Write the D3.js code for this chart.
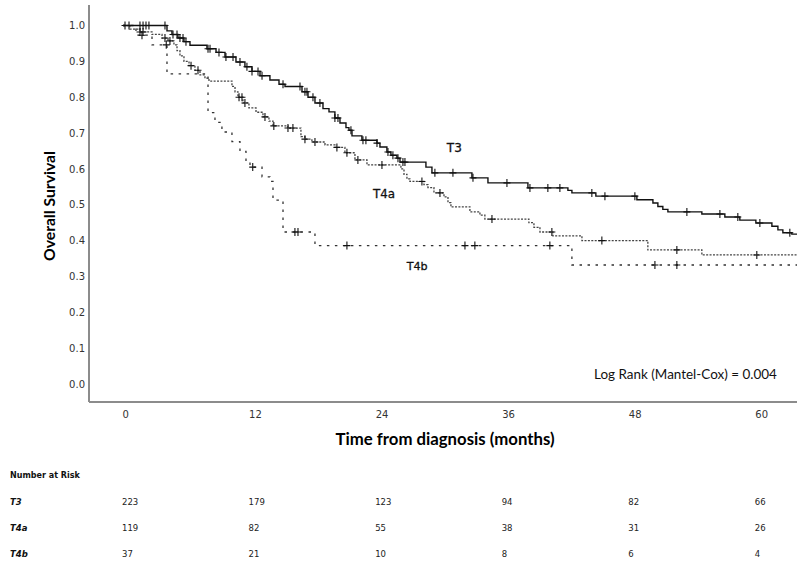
<!DOCTYPE html>
<html><head><meta charset="utf-8">
<script src="https://cdn.jsdelivr.net/npm/d3@7"></script>
<style>body{margin:0;background:#fff} svg{display:block}</style>
</head><body>
<svg id="c" width="800" height="561"></svg>
<script>
// ---- data (months, survival) ----
const groups = ["T3", "T4a", "T4b"];
const t3Times = [0,4.17,4.64,5.21,5.78,6.35,7.96,8.82,9.67,10.71,11.56,12.23,12.99,13.93,14.79,15.36,16.97,17.54,18.2,18.96,19.53,20.09,20.57,21.14,21.42,21.71,22.65,24.08,24.36,25.02,25.4,25.97,26.26,28.72,29.29,33.08,34.6,38.39,42.18,42.56,44.83,48.72,50.24,50.71,51.18,51.66,54.88,57.06,58.48,60.0,61.52,62.09,62.56,63.41];
const t3Surv = [1.0,0.985,0.975,0.965,0.955,0.945,0.935,0.925,0.912,0.898,0.885,0.872,0.86,0.848,0.836,0.83,0.815,0.80,0.784,0.768,0.759,0.742,0.728,0.715,0.708,0.692,0.68,0.672,0.661,0.647,0.638,0.63,0.619,0.605,0.589,0.575,0.561,0.547,0.54,0.533,0.524,0.514,0.505,0.495,0.487,0.48,0.474,0.466,0.457,0.449,0.44,0.43,0.422,0.418];
const t3Censored = [0.19,0.57,1.61,1.9,2.18,2.46,3.98,4.74,5.12,5.4,5.69,5.97,8.06,8.25,9.1,9.76,10.43,11.09,11.75,12.23,12.8,13.18,15.17,16.78,17.25,17.44,18.01,18.67,20.09,20.38,21.61,22.75,23.03,24.08,25.12,25.59,26.07,26.54,26.73,29.57,31.28,33.18,36.4,38.58,40.28,41.42,44.45,45.69,48.53,53.46,56.59,58.29,60.38,63.22];

const t4aTimes = [0,0.66,1.61,2.75,3.7,4.27,4.83,5.12,5.4,5.78,6.26,6.82,7.3,7.77,8.15,10.33,10.62,10.9,11.37,11.94,12.61,13.27,13.84,14.22,15.64,16.87,17.25,17.91,19.15,20.09,21.04,21.99,23.13,26.35,26.64,26.92,27.2,28.53,28.91,29.48,30.43,30.81,31.09,32.89,33.84,34.31,38.48,38.96,39.53,40.76,43.51,49.76,54.88];
const t4aSurv = [1.0,0.99,0.982,0.975,0.965,0.957,0.946,0.93,0.915,0.9,0.888,0.875,0.862,0.853,0.845,0.83,0.815,0.8,0.784,0.77,0.758,0.745,0.733,0.72,0.714,0.69,0.683,0.675,0.667,0.66,0.645,0.625,0.611,0.6,0.585,0.572,0.565,0.556,0.548,0.533,0.522,0.506,0.494,0.48,0.471,0.46,0.45,0.437,0.424,0.413,0.4,0.374,0.36];
const t4aCensored = [1.61,1.9,3.98,4.45,6.45,7.11,11.0,11.28,11.56,13.46,14.3,15.64,16.11,17.25,18.2,20.28,21.23,22.27,24.55,28.34,30.05,34.98,40.66,45.4,52.51,60.09];

const t4bTimes = [0,1.23,2.75,4.17,8.06,8.72,9.38,10.33,11.09,11.66,12.04,13.18,13.93,14.22,15.17,18.2,42.56];
const t4bSurv = [1.0,0.973,0.946,0.865,0.757,0.73,0.703,0.676,0.649,0.622,0.605,0.578,0.565,0.513,0.424,0.386,0.332];
const t4bCensored = [1.8,4.1,12.3,16.3,16.59,21.23,32.42,33.36,40.47,50.43,52.51];

const followUpEnd = 63.9;
const xTicks = [0, 12, 24, 36, 48, 60];
const yTicks = [0, 0.1, 0.2, 0.3, 0.4, 0.5, 0.6, 0.7, 0.8, 0.9, 1.0];
const riskTimes = [0, 12, 24, 36, 48, 60];
const riskT3 = [223, 179, 123, 94, 82, 66];
const riskT4a = [119, 82, 55, 38, 31, 26];
const riskT4b = [37, 21, 10, 8, 6, 4];
const curveLabelPos = [[30.7, 0.648], [23.7, 0.52], [26.9, 0.318]];

// ---- drawing ----
const svg = d3.select('#c');
const x = d3.scaleLinear().domain([0, followUpEnd]).range([123, 797]);
const y = d3.scaleLinear().domain([0, 1]).range([384, 25.5]);
const axisColor = '#8c8c8c';

function fit(sel, w) {
  const len = sel.node().getComputedTextLength();
  const fs = parseFloat(sel.attr('font-size'));
  sel.attr('font-size', (fs * w / len).toFixed(2));
  return sel;
}

// axis lines
svg.append('line').attr('x1', 89).attr('x2', 89).attr('y1', y(1.057)).attr('y2', y(-0.05))
  .attr('stroke', axisColor).attr('stroke-width', 2);
svg.append('line').attr('x1', 89).attr('x2', x(followUpEnd)).attr('y1', y(-0.05)).attr('y2', y(-0.05))
  .attr('stroke', axisColor).attr('stroke-width', 2);

// y axis ticks
const yAx = svg.append('g').attr('transform', 'translate(89,0)')
  .call(d3.axisLeft(y).tickValues(yTicks).tickSize(0).tickPadding(4).tickFormat(d3.format('.1f')));
yAx.select('.domain').remove();
yAx.selectAll('text').attr('font-family', 'DejaVu Sans').attr('font-size', 10).attr('fill', '#333');

// x axis ticks
const xAx = svg.append('g').attr('transform', `translate(0,${y(-0.05)})`)
  .call(d3.axisBottom(x).tickValues(xTicks).tickSize(0).tickPadding(9));
xAx.select('.domain').remove();
xAx.selectAll('text').attr('font-family', 'DejaVu Sans').attr('font-size', 10).attr('fill', '#333')
  .attr('text-anchor', 'start').attr('dx', -1);

// titles
fit(svg.append('text').attr('transform', 'translate(55,206) rotate(-90)').attr('text-anchor', 'middle')
  .attr('font-family', 'Lato').attr('font-weight', 'bold').attr('font-size', 15).attr('fill', '#000')
  .text('Overall Survival'), 110);
fit(svg.append('text').attr('x', 445).attr('y', 445).attr('text-anchor', 'middle')
  .attr('font-family', 'Lato').attr('font-weight', 'bold').attr('font-size', 16).attr('fill', '#000')
  .text('Time from diagnosis (months)'), 219);
fit(svg.append('text').attr('x', 594).attr('y', 379)
  .attr('font-family', 'Lato').attr('font-size', 12).attr('fill', '#111')
  .text('Log Rank (Mantel-Cox) = 0.004'), 183);

// curves
const series = [
  {name: groups[0], times: t3Times, surv: t3Surv, cens: t3Censored, stroke: '#111', dash: null, w: 1.4},
  {name: groups[1], times: t4aTimes, surv: t4aSurv, cens: t4aCensored, stroke: '#444', dash: '2,1.4', w: 1.3},
  {name: groups[2], times: t4bTimes, surv: t4bSurv, cens: t4bCensored, stroke: '#333', dash: '2.5,5.5', w: 1.3}
];
const line = d3.line().x(d => x(d[0])).y(d => y(d[1])).curve(d3.curveStepAfter);
function survAt(s, t) {
  const i = d3.bisectRight(s.times, t) - 1;
  return s.surv[Math.max(0, i)];
}
series.slice().reverse().forEach(s => {
  const pts = s.times.map((t, i) => [t, s.surv[i]]);
  pts.push([followUpEnd, s.surv[s.surv.length - 1]]);
  svg.append('path').datum(pts).attr('d', line).attr('fill', 'none')
    .attr('stroke', s.stroke).attr('stroke-width', s.w)
    .attr('stroke-dasharray', s.dash);
  svg.append('g').selectAll('path').data(s.cens).join('path')
    .attr('transform', t => `translate(${x(t)},${y(survAt(s, t))})`)
    .attr('d', 'M-3.5,0H3.5M0,-4V4').attr('stroke', '#111').attr('stroke-width', 1.1).attr('fill', 'none');
});

// curve labels
const labelW = [15, 22, 21];
groups.forEach((g, i) => {
  fit(svg.append('text').attr('x', x(curveLabelPos[i][0])).attr('y', y(curveLabelPos[i][1]))
    .attr('font-family', 'DejaVu Sans').attr('font-size', 12).attr('fill', '#111')
    .attr('stroke', '#111').attr('stroke-width', 0.3)
    .text(g), labelW[i]);
});

// number at risk table
fit(svg.append('text').attr('x', 10).attr('y', 478)
  .attr('font-family', 'DejaVu Sans').attr('font-weight', 'bold').attr('font-size', 8).attr('fill', '#111')
  .text('Number at Risk'), 70);
const rows = [riskT3, riskT4a, riskT4b];
const rowY = [505, 531, 557];
rows.forEach((r, i) => {
  svg.append('text').attr('x', 10).attr('y', rowY[i])
    .attr('font-family', 'DejaVu Sans').attr('font-weight', 'bold').attr('font-style', 'italic')
    .attr('font-size', 8.5).attr('fill', '#111').text(groups[i]);
  svg.append('g').selectAll('text').data(r).join('text')
    .attr('x', (d, j) => x(riskTimes[j]) - 1).attr('y', rowY[i])
    .attr('font-family', 'DejaVu Sans').attr('font-size', 8.5).attr('fill', '#222')
    .text(d => d);
});
</script>
</body></html>
